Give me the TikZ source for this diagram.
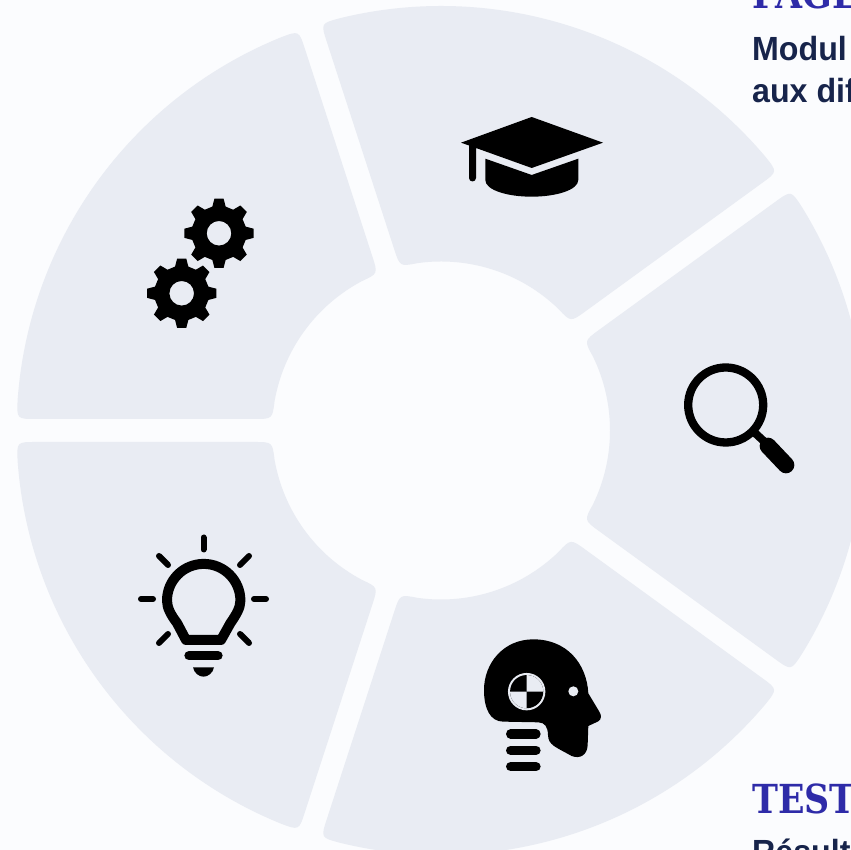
\documentclass[tikz,border=0pt]{standalone}
\usepackage{fontspec}
\setmainfont{Liberation Sans}
\newfontfamily\titlefont[FakeStretch=0.87]{DejaVu Serif Bold}
\newfontfamily\bodyfont[FakeStretch=0.96]{Liberation Sans Bold}
\definecolor{bgc}{HTML}{FBFCFE}
\definecolor{segc}{HTML}{E9ECF3}
\definecolor{titlec}{HTML}{2E2BA8}
\definecolor{bodyc}{HTML}{17244B}
\newcommand{\ringseg}[1]{%
  \fill[segc,rotate around={#1:(441,419.5)},shift={(441,419.5)}]
    (31.8:424.5pt) arc[start angle=31.8,end angle=-31.8,radius=424.5pt]
    .. controls (-34.448:424.5pt) .. ([shift=(54:11.5pt)]-36:405pt)
    -- ([shift=(54:11.5pt)]-36:187pt)
    .. controls (-32.1:169pt) .. (-26.0:169pt)
    arc[start angle=-26.0,end angle=26.0,radius=169pt]
    .. controls (32.1:169pt) .. ([shift=(-54:11.5pt)]36:187pt)
    -- ([shift=(-54:11.5pt)]36:405pt)
    .. controls (34.448:424.5pt) .. (31.8:424.5pt) -- cycle;}
\newcommand{\gearicon}[2]{%
  \fill[black,even odd rule,shift={(#1,#2)}]
    (90-14:27.5pt) \foreach \a in {90,135,...,405} {
      -- (\a-14:27.5pt) -- (\a-7.5:35pt) -- (\a+7.5:35pt) -- (\a+14:27.5pt)}
    -- cycle (0,0) circle[radius=12.3pt];}
\tikzset{
  ico/.style={line width=#1,black,line cap=round,line join=round},
  titletext/.style={anchor=base west,inner sep=0pt,text=titlec,font=\titlefont\fontsize{40}{40}\selectfont},
  bodytext/.style={anchor=base west,inner sep=0pt,text=bodyc,font=\bodyfont\fontsize{33.5}{33.5}\selectfont},
}
\begin{document}
\begin{tikzpicture}[x=1pt,y=1pt]
\useasboundingbox (0,0) rectangle (851,850);
\fill[bgc] (0,0) rectangle (851,850);
\begin{scope}
\clip (0,0) rectangle (851,850);
\ringseg{0}\ringseg{72}\ringseg{144}\ringseg{216}\ringseg{288}
\end{scope}
\begin{scope}
\clip (0,0) rectangle (851,850);
\node[titletext] (titletop) at (752,841) {PAGE};
\node[bodytext] (bodyone) at (752,789.5) {Modul};
\node[bodytext] (bodytwo) at (752,747.5) {aux dif};
\node[titletext] (titlebot) at (752,36) {TEST};
\node[bodytext] (bodythree) at (752,-14) {Résult};
\end{scope}
% icons in pixel coordinates, y downwards
\begin{scope}[shift={(0,850)},yscale=-1]
% cap
\fill[black,line join=round] (531.7,117) -- (603,142.7) -- (531.7,168) -- (476,148) -- (476,178) arc[start angle=0,end angle=180,radius=3.5pt] -- (469,145.5) -- (461,142.7) -- cycle;
\fill[black] (485.3,158.7) -- (531.7,175) -- (578.3,158.7) -- (578.3,180) .. controls (578.3,190) and (556,196.7) .. (531.7,196.7) .. controls (507,196.7) and (485.3,190) .. (485.3,180) -- cycle;
% gears
\gearicon{219}{233.3}
\gearicon{181.7}{293.3}
% magnifier
\draw[ico=8.3pt] (725.7,405) circle[radius=37.5pt];
\draw[ico=8pt,line cap=butt] (755,433) -- (768,445);
\draw[ico=16.7pt] (768,446) -- (786,465);
% bulb
\draw[ico=10pt] (186,640) -- (177,623) .. controls (171,615) and (167,608) .. (167,600.6) arc[start angle=180,end angle=360,radius=36.7pt] .. controls (240.4,608) and (236,615) .. (230.5,623) -- (221,640) -- cycle;
\draw[ico=6pt] (203.5,537.5) -- (203.5,549.5);
\draw[ico=6pt] (141,599) -- (153,599);
\draw[ico=6pt] (254,599) -- (266,599);
\draw[ico=6pt] (159,556) -- (168,565);
\draw[ico=6pt] (249,556) -- (240,565);
\draw[ico=6pt] (159,643) -- (168,634);
\draw[ico=6pt] (249,643) -- (240,634);
\draw[ico=9.3pt] (189,655.7) -- (218,655.7);
\fill[black] (193,667.3) -- (214,667.3) .. controls (213,673) and (208,676.7) .. (203.5,676.7) .. controls (199,676.7) and (194,673) .. (193,667.3) -- cycle;
% head
\begin{scope}[shift={(470,630)},x=0.3333pt,y=0.3333pt]
\fill[black] (190,28) .. controls (100,28) and (42,100) .. (42,180) .. controls (42,235) and (60,275) .. (100,275) -- (205,277) .. controls (225,278) and (233,290) .. (234,315) .. controls (235,345) and (255,350) .. (305,378) .. controls (330,388) and (352,375) .. (353,345) -- (355,288) -- (385,274) .. controls (395,268) and (395,255) .. (388,245) -- (355,190) .. controls (350,100) and (290,28) .. (190,28) -- cycle;
\fill[segc] (310,184) circle[radius=5pt];
\fill[segc] (170,185) circle[radius=18.7pt];
\fill[black] (170,185) circle[radius=16.6pt];
\fill[segc] (170,185) -- (120.2,185) arc[start angle=180,end angle=90,radius=16.6pt] -- cycle;
\fill[segc] (170,185) -- (219.8,185) arc[start angle=0,end angle=-90,radius=16.6pt] -- cycle;
\draw[ico=9.3pt] (122,312) -- (198,312);
\draw[ico=9.3pt] (122,361) -- (198,361);
\draw[ico=9.3pt] (122,410) -- (198,410);
\end{scope}
\end{scope}
\end{tikzpicture}
\end{document}
